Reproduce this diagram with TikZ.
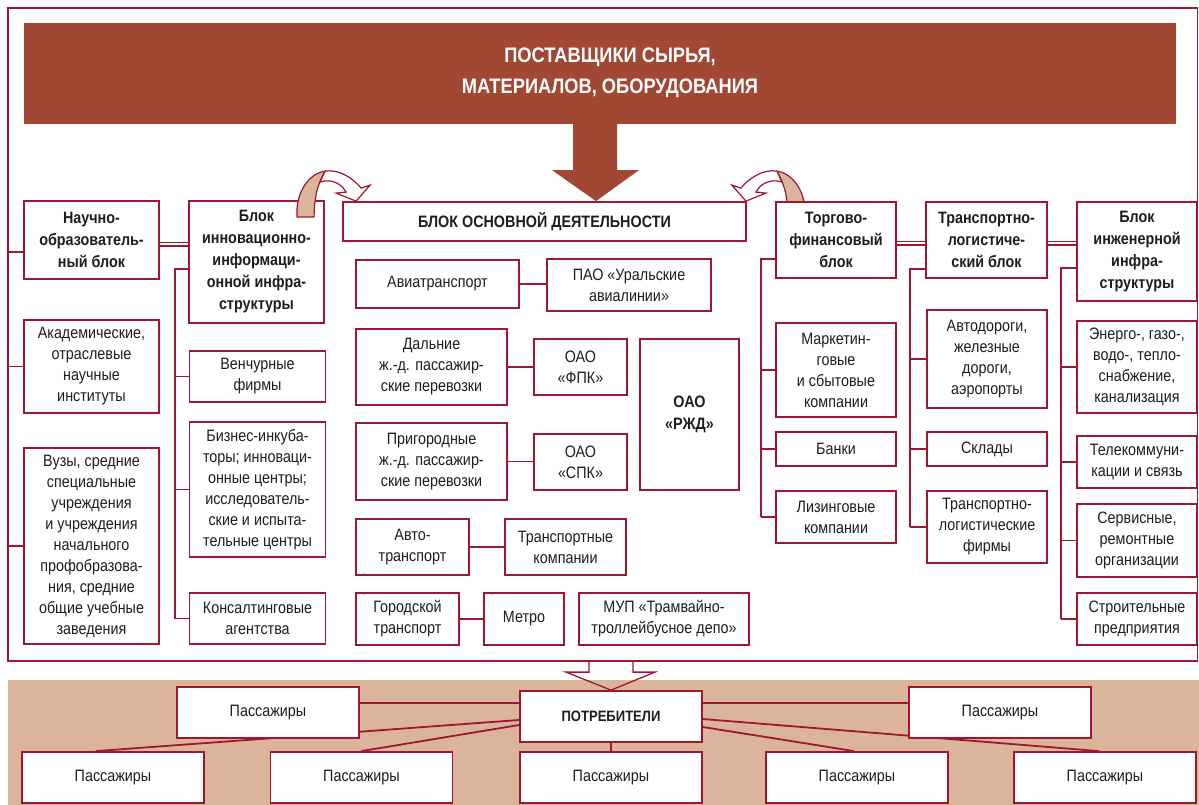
\documentclass[tikz,border=0pt]{standalone}
\usepackage{fontspec}
\setmainfont{Liberation Sans}[FakeStretch=0.87]
\usepackage{xcolor}
\usepackage{tikz}
\usetikzlibrary{positioning,calc}
\definecolor{rust}{RGB}{161,71,51}
\definecolor{sand}{RGB}{218,181,156}
\definecolor{wine}{RGB}{160,22,48}
\definecolor{ink}{RGB}{30,30,30}
\pgfdeclarelayer{back}
\pgfdeclarelayer{wires}
\pgfsetlayers{back,wires,main}
\tikzset{
    box/.style={rectangle,draw=wine,line width=1.8pt,fill=white,align=center,text=ink,inner sep=2pt,font=\fontsize{16.5}{21}\selectfont},
    head/.style={box,font=\fontsize{16.5}{22}\selectfont\bfseries},
    pass/.style={box,minimum width=182pt,minimum height=51pt},
    link/.style={draw=wine,line width=1.8pt},
    dbl/.style={draw=wine,double=white,double distance=2.4pt,line width=1.3pt},
    twist/.pic={
        \filldraw[fill=sand,draw=wine,line width=1.2pt] (-59,16) .. controls (-61,-10) and (-46,-28) .. (-31,-30)
            .. controls (-38,-18) and (-42,-5) .. (-42,16) -- cycle;
        \filldraw[fill=white,draw=wine,line width=1.2pt] (-31,-30) .. controls (-18,-32) and (-4,-24) .. (5,-13)
            -- (14,-16) -- (0,0) -- (-20,-8) -- (-10,-9) .. controls (-16,-20) and (-28,-22) .. (-36,-19) -- cycle;
    },
}

\begin{document}
\begin{tikzpicture}[x=1pt,y=-1pt]
\useasboundingbox (0,0) rectangle (1199,805);
\begin{pgfonlayer}{back}
\node[draw=wine,line width=1.8pt,inner sep=0,minimum width=1189.5pt,minimum height=653pt] (frame) at (602.75,334.5) {};
\fill[sand] (8,680) rectangle (1199,805);
\end{pgfonlayer}

% suppliers
\node[fill=rust,inner sep=0,minimum width=1152pt,minimum height=101pt] (supp) at (600,73.5) {};
\node[font=\fontsize{21}{31}\selectfont\bfseries,text=white,align=center] (supptxt) at (610,73) {ПОСТАВЩИКИ СЫРЬЯ,\\МАТЕРИАЛОВ, ОБОРУДОВАНИЯ};

% left blocks
\node[head,minimum width=135pt,minimum height=78pt] (nauch) at (91.5,240) {Научно-\\образователь-\\ный блок};
\node[box,minimum width=135pt,minimum height=93pt] (akad) at (91.5,366.5) {Академические,\\отраслевые\\научные\\институты};
\node[box,minimum width=135pt,minimum height=196pt] (vuzy) at (91.5,546) {Вузы, средние\\специальные\\учреждения\\и учреждения\\начального\\профобразова-\\ния, средние\\общие учебные\\заведения};
\node[head,minimum width=135pt,minimum height=122pt] (innov) at (256.5,262) {Блок\\инновационно-\\информаци-\\онной инфра-\\структуры};
\node[box,minimum width=136pt,minimum height=51pt] (vench) at (257.5,376.5) {Венчурные\\фирмы};
\node[box,minimum width=136pt,minimum height=135pt] (biz) at (257.5,489.5) {Бизнес-инкуба-\\торы; инноваци-\\онные центры;\\исследователь-\\ские и испыта-\\тельные центры};
\node[box,minimum width=136pt,minimum height=51pt] (kons) at (257.5,618.5) {Консалтинговые\\агентства};

% core block
\node[head,minimum width=403pt,minimum height=39pt] (core) at (544.5,221.5) {БЛОК ОСНОВНОЙ ДЕЯТЕЛЬНОСТИ};
\node[box,minimum width=163pt,minimum height=48pt] (avia) at (437.5,284) {Авиатранспорт};
\node[box,minimum width=164pt,minimum height=52pt] (ural) at (629,285) {ПАО «Уральские\\авиалинии»};
\node[box,minimum width=151pt,minimum height=76pt] (dal) at (431.5,367) {Дальние\\ж.-д. пассажир-\\ские перевозки};
\node[box,minimum width=93pt,minimum height=56pt] (fpk) at (580.5,367) {ОАО\\«ФПК»};
\node[head,minimum width=99pt,minimum height=151pt] (rzd) at (689.5,414.5) {ОАО\\«РЖД»};
\node[box,minimum width=151pt,minimum height=77pt] (prig) at (431.5,461.5) {Пригородные\\ж.-д. пассажир-\\ские перевозки};
\node[box,minimum width=93pt,minimum height=56pt] (spk) at (580.5,462) {ОАО\\«СПК»};
\node[box,minimum width=113pt,minimum height=56pt] (avto) at (412.5,547) {Авто-\\транспорт};
\node[box,minimum width=121pt,minimum height=56pt] (tk) at (565.5,547) {Транспортные\\компании};
\node[box,minimum width=103pt,minimum height=52pt] (gor) at (407.5,619) {Городской\\транспорт};
\node[box,minimum width=80pt,minimum height=52pt] (metro) at (524,619) {Метро};
\node[box,minimum width=170pt,minimum height=52pt] (mup) at (664,619) {МУП «Трамвайно-\\троллейбусное депо»};

% right blocks
\node[head,minimum width=120pt,minimum height=76pt] (torg) at (836,240) {Торгово-\\финансовый\\блок};
\node[head,minimum width=121pt,minimum height=76pt] (trlog) at (986.5,240) {Транспортно-\\логистиче-\\ский блок};
\node[head,minimum width=120pt,minimum height=99pt] (inzh) at (1137,251.5) {Блок\\инженерной\\инфра-\\структуры};
\node[box,minimum width=120pt,minimum height=94pt] (mark) at (836,370) {Маркетин-\\говые\\и сбытовые\\компании};
\node[box,minimum width=120pt,minimum height=34pt] (bank) at (836,449) {Банки};
\node[box,minimum width=120pt,minimum height=52pt] (lizing) at (836,517) {Лизинговые\\компании};
\node[box,minimum width=120pt,minimum height=98pt] (avtodor) at (987,359) {Автодороги,\\железные\\дороги,\\аэропорты};
\node[box,minimum width=120pt,minimum height=34pt] (sklad) at (987,449) {Склады};
\node[box,minimum width=120pt,minimum height=72pt] (tlf) at (987,527) {Транспортно-\\логистические\\фирмы};
\node[box,minimum width=120pt,minimum height=92pt] (energ) at (1137,367) {Энерго-, газо-,\\водо-, тепло-\\снабжение,\\канализация};
\node[box,minimum width=120pt,minimum height=52pt] (tele) at (1137,462) {Телекоммуни-\\кации и связь};
\node[box,minimum width=120pt,minimum height=73pt] (serv) at (1137,540.5) {Сервисные,\\ремонтные\\организации};
\node[box,minimum width=120pt,minimum height=52pt] (stroi) at (1137,619) {Строительные\\предприятия};

% consumers
\node[head,font=\fontsize{15}{18}\selectfont\bfseries,minimum width=182pt,minimum height=51pt] (potr) at (611,716.5) {ПОТРЕБИТЕЛИ};
\node[pass] (p1) at (268,712.5) {Пассажиры};
\node[pass] (p2) at (1000,712.5) {Пассажиры};
\node[pass] (b1) at (113,777.5) {Пассажиры};
\node[pass] (b2) at (361.5,777.5) {Пассажиры};
\node[pass] (b3) at (611,777.5) {Пассажиры};
\node[pass] (b4) at (857,777.5) {Пассажиры};
\node[pass] (b5) at (1105,777.5) {Пассажиры};

% arrows
\fill[rust] ([xshift=51.5pt]core.north) -- ++(-44,-31) -- ++(21,0) -- ++(0,-46) -- ++(44,0) -- ++(0,46) -- ++(22,0) -- cycle;
\pic at ([xshift=14pt]core.north west) {twist};
\draw[wine,line width=1.3pt,line join=miter] ($(potr.north)+(-22,-29)$) -- ++(0,11) -- ++(-23,0) -- (potr.north) -- ++(44,-18) -- ++(-22,0) -- ++(0,-11);

\begin{pgfonlayer}{wires}
\pic[xscale=-1] at ([xshift=-1pt]core.north east) {twist};
% trees
\foreach \n/\dy in {nauch/-12,akad/0,vuzy/0}
    \draw[link] ([yshift=\dy pt]\n.west) -- ([yshift=\dy pt]\n.west -| frame.west);
\coordinate (ti) at (175,269);
\draw[link] (innov.west |- ti) -- (ti) -- (ti |- kons.west);
\foreach \n in {vench,biz,kons}
    \draw[link] (\n.west) -- (\n.west -| ti);
\coordinate (tt) at (761,259);
\draw[link] (torg.west |- tt) -- (tt) -- (tt |- lizing.west);
\foreach \n in {mark,bank,lizing}
    \draw[link] (\n.west) -- (\n.west -| tt);
\coordinate (tl) at (910,269);
\draw[link] (trlog.west |- tl) -- (tl) -- (tl |- tlf.west);
\foreach \n in {avtodor,sklad,tlf}
    \draw[link] (\n.west) -- (\n.west -| tl);
\coordinate (tn) at (1061,268);
\draw[link] (inzh.west |- tn) -- (tn) -- (tn |- stroi.west);
\foreach \n in {energ,tele,serv,stroi}
    \draw[link] (\n.west) -- (\n.west -| tn);
% pairs
\foreach \a/\b in {avia/ural,dal/fpk,prig/spk,avto/tk,gor/metro}
    \draw[link] (\a.east) -- (\a.east -| \b.west);
\draw[dbl] ([yshift=-4pt]nauch.east) -- ([yshift=-4pt]nauch.east -| innov.west);
\draw[dbl] ([yshift=-3pt]torg.east) -- ([yshift=-3pt]torg.east -| trlog.west);
\draw[dbl] ([yshift=-3pt]trlog.east) -- ([yshift=-3pt]trlog.east -| inzh.west);
% consumers
\draw[link] ([yshift=13.5pt]potr.west) -- ([yshift=13.5pt]potr.west -| p1.east);
\draw[link] ([yshift=13.5pt]potr.east) -- ([yshift=13.5pt]potr.east -| p2.west);
\draw[link] ([yshift=-3.5pt]potr.west) -- ([xshift=-17pt]b1.north);
\draw[link] ([yshift=-8.5pt]potr.west) -- (b2.north);
\draw[link] (potr.south) -- (b3.north);
\draw[link] ([yshift=-10.5pt]potr.east) -- ([xshift=-3pt]b4.north);
\draw[link] ([yshift=-2.5pt]potr.east) -- ([xshift=-6pt]b5.north);
\end{pgfonlayer}
\end{tikzpicture}
\end{document}
